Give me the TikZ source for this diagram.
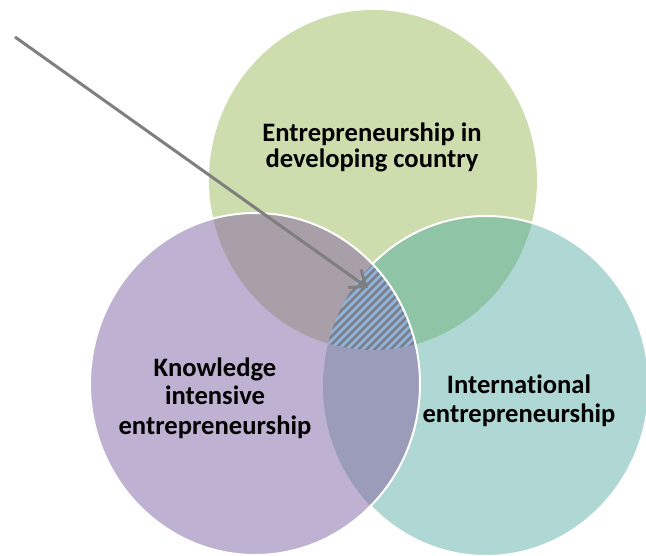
\documentclass[tikz,border=0pt]{standalone}
\usepackage{fontspec}
\setmainfont{Carlito}[Ligatures={NoCommon}]
\usetikzlibrary{arrows.meta}
\definecolor{devgreen}{HTML}{CEDDAD}
\definecolor{knowpurple}{HTML}{BFB1D2}
\definecolor{intteal}{HTML}{AFD8D4}
\definecolor{greenpurple}{HTML}{A89FA9}
\definecolor{greenteal}{HTML}{8FC4A6}
\definecolor{purpleteal}{HTML}{9A9CBA}
\definecolor{hatchblue}{HTML}{93B3D8}
\definecolor{hatchgray}{HTML}{7A7F8C}
\definecolor{pointer}{HTML}{7F7F7F}
\def\devset{(373,-180) ellipse [x radius=164pt, y radius=170pt]}
\def\knowset{(255,-384) ellipse [x radius=165pt, y radius=171pt]}
\def\intset{(486,-386) ellipse [x radius=163pt, y radius=170pt]}
\begin{document}
\begin{tikzpicture}[x=1pt,y=1pt,
    setlabel/.style={font=\bfseries\fontsize{26.6}{29}\selectfont, align=center, inner sep=0pt, anchor=base},
    rim/.style={draw=white, line width=2pt}]
    \useasboundingbox (0,0) rectangle (646,-556);
    % circles
    \fill [devgreen] \devset;
    \fill [intteal] \intset;
    \begin{scope}
        \clip \devset;
        \fill [greenteal] \intset;
    \end{scope}
    \draw [rim] \intset;
    \fill [knowpurple] \knowset;
    \begin{scope}
        \clip \knowset;
        \fill [greenpurple] \devset;
        \fill [purpleteal] \intset;
        \clip \devset;
        \clip \intset;
        \fill [hatchblue] \knowset;
        \foreach \k in {-30,...,30}
            \draw [hatchgray, line width=2.6pt] (330+\k*8,-370) -- ++(120,120);
    \end{scope}
    \draw [rim] \knowset;
    % labels (base = last line)
    \node [setlabel] (dev) at (372,-168) {Entrepreneurship in\\[-3pt]developing country};
    \node [setlabel] (know) at (215,-434) {Knowledge\\intensive\\entrepreneurship};
    \node [setlabel] (intl) at (519,-422) {International\\entrepreneurship};
    % pointer
    \coordinate (tail) at (15,-37);
    \coordinate (core) at (368,-288);
    \draw [pointer, line width=3pt, -{Straight Barb[length=14pt,width=22pt]}] (tail) -- (core);
\end{tikzpicture}
\end{document}
